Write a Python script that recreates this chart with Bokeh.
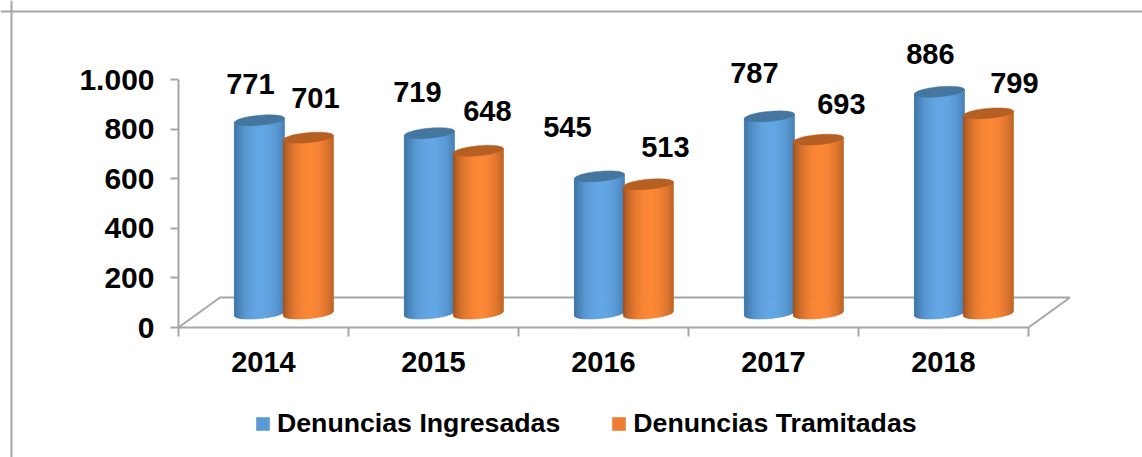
import numpy as np
from bokeh.core.properties import value
from bokeh.embed import file_html
from bokeh.models import FixedTicker, Legend, LegendItem, LinearAxis, Range1d, Span
from bokeh.plotting import figure
from bokeh.resources import INLINE

years = ["2014", "2015", "2016", "2017", "2018"]
ingresadas = [771, 719, 545, 787, 886]
tramitadas = [701, 648, 513, 693, 799]
y_ticks = [0, 200, 400, 600, 800, 1000]
y_labels = {0: "0", 200: "200", 400: "400", 600: "600", 800: "800", 1000: "1.000"}
series_names = ["Denuncias Ingresadas", "Denuncias Tramitadas"]

W, H = 1142, 457
FONT = "Liberation Sans"
GRAY = "#a6a6a6"

PX_X = 170.0   # px per category
PX_Y = 0.248   # px per value unit
X0, Y0 = 178.0, 327.0   # where the axes cross, px from top-left

p = figure(width=W, height=H, output_backend="svg", toolbar_location=None,
           x_axis_type=None, y_axis_type=None,
           x_range=Range1d(-X0 / PX_X, (W - X0) / PX_X),
           y_range=Range1d(-(H - Y0) / PX_Y, Y0 / PX_Y),
           min_border_left=0, min_border_right=0, min_border_top=0, min_border_bottom=0,
           background_fill_color="white", border_fill_color="white")
p.grid.visible = False
p.outline_line_color = None

# page frame: left and top rules only
p.add_layout(Span(location=(11 - X0) / PX_X, dimension="height", line_color=GRAY, line_width=2))
p.add_layout(Span(location=(Y0 - 11) / PX_Y, dimension="width", line_color=GRAY, line_width=2))

# axes
yax = LinearAxis(ticker=FixedTicker(ticks=y_ticks), major_label_overrides=y_labels,
                 bounds=(0, 1000), fixed_location=0,
                 axis_line_color=GRAY, axis_line_width=2,
                 major_tick_line_color=GRAY, major_tick_line_width=2,
                 major_tick_out=8, major_tick_in=0, minor_tick_line_color=None,
                 major_label_text_font=FONT, major_label_text_font_style="bold",
                 major_label_text_font_size="30px", major_label_text_color="black",
                 major_label_standoff=16)
p.add_layout(yax, "left")

centers = [i + 0.5 for i in range(len(years))]
boundaries = list(range(len(years) + 1))
xax = LinearAxis(ticker=FixedTicker(ticks=centers, minor_ticks=boundaries),
                 major_label_overrides=dict(zip(centers, years)),
                 bounds=(0, 5), fixed_location=0,
                 axis_line_color=GRAY, axis_line_width=2,
                 major_tick_line_color=None, major_tick_out=0, major_tick_in=0,
                 minor_tick_line_color=GRAY, minor_tick_line_width=2,
                 minor_tick_out=9, minor_tick_in=0,
                 major_label_text_font=FONT, major_label_text_font_style="bold",
                 major_label_text_font_size="29px", major_label_text_color="black",
                 major_label_standoff=15)
p.add_layout(xax, "below")

# floor (back edge of the 3D floor)
dx, dy = 41.5 / PX_X, 30 / PX_Y
p.line([0, dx, 5 + dx, 5], [0, dy, dy, 0], line_color=GRAY, line_width=2)

BASE = 16 / PX_Y      # value 0 of the cylinder tops
FOOT = 14 / PX_Y      # centre of the cylinder foot
HALF = 25 / PX_X
A_MIN = 5.0 / PX_Y    # semi-minor of the cylinder ends
TILT = 2.2 / PX_Y     # rise at the right edge
OFF_I, OFF_T = 0.476, 0.764


def shade(t, dark, light):
    k = np.clip(1 - ((t - 0.08) / 1.08) ** 2, 0, 1) ** 0.8
    return "#%02x%02x%02x" % tuple(int(round(d + (l - d) * k)) for d, l in zip(dark, light))


def cylinder(cx, v, dark, light, topc):
    n = 50
    ts = np.linspace(-1, 1, n + 1)
    xs, ys, cs = [], [], []
    yt = BASE + v
    for a, b in zip(ts[:-1], ts[1:]):
        ba = FOOT + TILT * a - A_MIN * np.sqrt(1 - a * a)
        bb = FOOT + TILT * b - A_MIN * np.sqrt(1 - b * b)
        xs.append([cx + a * HALF, cx + b * HALF, cx + b * HALF, cx + a * HALF])
        ys.append([ba, bb, yt + TILT * b, yt + TILT * a])
        cs.append(shade((a + b) / 2, dark, light))
    p.patches(xs, ys, fill_color=cs, line_color=cs, line_width=0.8)
    th = np.linspace(0, 2 * np.pi, 60)
    p.patch(cx + HALF * np.cos(th), yt + TILT * np.cos(th) + A_MIN * np.sin(th),
            fill_color=topc, line_color=topc, line_width=0.5)


BLUE = ((0x38, 0x6c, 0x9c), (0x62, 0xa6, 0xe4), "#44769f")
ORANGE = ((0x9c, 0x4e, 0x1c), (0xfc, 0x86, 0x34), "#b65f22")
for i in range(len(years)):
    cylinder(i + OFF_I, ingresadas[i], *BLUE)
    cylinder(i + OFF_T, tramitadas[i], *ORANGE)

# data labels sit by hand beside the bar tops (px offsets from each bar's top)
off_x_i = [-9, -12, -32, -15, -9]
off_y_i = [36, 41, 49, 43, 38]
off_x_t = [7, 9, 17, 23, 26]
off_y_t = [40, 40, 37, 36, 30]
lab_x = [i + OFF_I for i in range(5)] + [i + OFF_T for i in range(5)]
lab_v = ingresadas + tramitadas
p.text(x=lab_x, y=[BASE + v for v in lab_v], text=[str(v) for v in lab_v],
       x_offset=off_x_i + off_x_t, y_offset=[-o for o in off_y_i + off_y_t],
       text_font=value(FONT), text_font_style="bold", text_font_size="29px",
       text_align="center", text_baseline="middle", text_color="black")

# legend: zero-height bars that only supply the swatch colours
r1 = p.vbar(x=centers, top=[0] * 5, bottom=[0] * 5, width=0.1, fill_color="#5b9bd5", line_color=None)
r2 = p.vbar(x=centers, top=[0] * 5, bottom=[0] * 5, width=0.1, fill_color="#ed7d31", line_color=None)
leg = Legend(items=[LegendItem(label=series_names[0], renderers=[r1]),
                    LegendItem(label=series_names[1], renderers=[r2])],
             orientation="horizontal", location=(254, 18),
             glyph_width=17, glyph_height=17, label_standoff=6, spacing=50,
             padding=0, margin=0, border_line_color=None, background_fill_alpha=0,
             label_text_font=FONT, label_text_font_style="bold",
             label_text_font_size="26.7px", label_text_color="black")
p.add_layout(leg, "center")

open("out.html", "w").write(file_html(p, INLINE))
